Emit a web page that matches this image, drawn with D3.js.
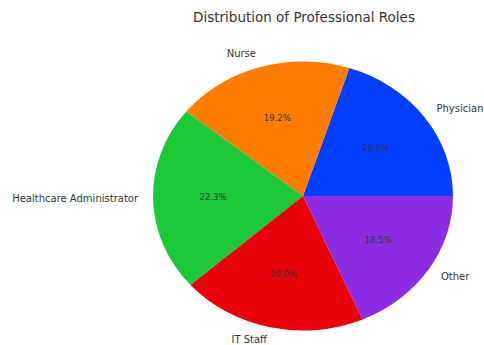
<!DOCTYPE html>
<html>
<head>
<meta charset="utf-8">
<script src="https://cdn.jsdelivr.net/npm/d3@7"></script>
<style>
  body { margin: 0; background: #fff; }
  text { font-family: "DejaVu Sans", sans-serif; }
</style>
</head>
<body>
<div id="chart"></div>
<script>
// roles and their shares (percent)
var roles = ["Physician", "Nurse", "Healthcare Administrator", "IT Staff", "Other"];
var shares = [20.0, 19.2, 22.3, 20.0, 18.5];
var colors = ["#023eff", "#ff7c00", "#1ac938", "#e8000b", "#8b2be2"];

var width = 484, height = 345;
var cx = 303, cy = 196;
var rx = 150, ry = 134.5;   // picture is squashed a bit vertically

var svg = d3.select("#chart").append("svg")
  .attr("width", width)
  .attr("height", height);

svg.append("text")
  .attr("x", 304)
  .attr("y", 18)
  .attr("text-anchor", "middle")
  .attr("dominant-baseline", "middle")
  .style("font-size", "13.5px")
  .style("fill", "#333")
  .text("Distribution of Professional Roles");

// start at 3 o'clock and go counter-clockwise, like matplotlib
var pie = d3.pie()
  .sort(null)
  .startAngle(Math.PI / 2)
  .endAngle(Math.PI / 2 - 2 * Math.PI);

var arcs = pie(shares);

var arc = d3.arc().innerRadius(0).outerRadius(rx);

var g = svg.append("g")
  .attr("transform", "translate(" + cx + "," + cy + ") scale(1," + (ry / rx) + ")");

g.selectAll("path")
  .data(arcs)
  .enter().append("path")
  .attr("d", arc)
  .attr("fill", function(d, i) { return colors[i]; });

function pos(d, f) {
  var a = (d.startAngle + d.endAngle) / 2;
  return [cx + Math.sin(a) * rx * f, cy - Math.cos(a) * ry * f];
}

// outer labels
svg.selectAll(".lbl")
  .data(arcs)
  .enter().append("text")
  .attr("class", "lbl")
  .attr("x", function(d) { return pos(d, 1.1)[0]; })
  .attr("y", function(d) { return pos(d, 1.1)[1]; })
  .attr("text-anchor", function(d) { return pos(d, 1.1)[0] > cx ? "start" : "end"; })
  .attr("dominant-baseline", "middle")
  .style("font-size", "10px")
  .style("fill", "#333")
  .text(function(d, i) { return roles[i]; });

// percent labels
svg.selectAll(".pct")
  .data(arcs)
  .enter().append("text")
  .attr("class", "pct")
  .attr("x", function(d) { return pos(d, 0.6)[0]; })
  .attr("y", function(d) { return pos(d, 0.6)[1]; })
  .attr("text-anchor", "middle")
  .attr("dominant-baseline", "middle")
  .style("font-size", "8.5px")
  .style("fill", "#333")
  .text(function(d) { return d.data.toFixed(1) + "%"; });
</script>
</body>
</html>
